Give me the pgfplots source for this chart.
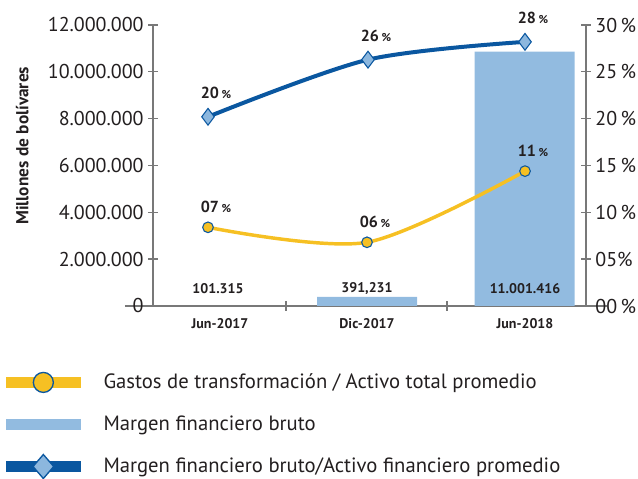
\documentclass[border=0pt]{standalone}
\usepackage{fontspec}
\setmainfont{PT Sans}
\usepackage{pgfplots}
\usepackage{pgfplotstable}
\pgfplotsset{compat=1.18}
\definecolor{ylw}{RGB}{246,192,35}
\definecolor{dblue}{RGB}{10,87,160}
\definecolor{lblue}{RGB}{146,187,224}
\definecolor{dia}{RGB}{140,183,222}
\definecolor{axgray}{RGB}{120,120,120}
\definecolor{txt}{RGB}{35,31,32}
\pgfplotstableread{
x y
214 391231
371.5 10860000
}\bars
\pgfplotstableread{
x y lab
55 20.2 20
215 26.3 26
372 28.2 28
}\blueline
\pgfplotstableread{
x y lab
55 8.4 07
214 6.8 06
372 14.4 11
}\ylwline
\newcommand\tfont{\fontsize{15}{16}\selectfont}
\newcommand\bfont{\fontsize{10.5}{11}\selectfont\bfseries}
\begin{document}
\begin{tikzpicture}
\path[use as bounding box] (0pt,0pt) rectangle (478.5pt,358.5pt);
\begin{axis}[
  at={(114.75pt,129pt)}, anchor=south west,
  scale only axis, width=324.75pt, height=210.75pt,
  xmin=0, xmax=433, ymin=0, ymax=12000000,
  axis x line*=bottom, axis y line*=left,
  axis line style={axgray, line width=1pt},
  x axis line style={-, shorten <=-21pt, shorten >=-15.75pt},
  y axis line style={-},
  tick align=center, major tick length=7pt,
  tick style={axgray, line width=1pt},
  ytick={0,2000000,4000000,6000000,8000000,10000000,12000000},
  yticklabels={0,2.000.000,4.000.000,6.000.000,8.000.000,10.000.000,12.000.000},
  yticklabel style={font=\tfont, text=txt},
  scaled y ticks=false,
  xtick={133,294}, xticklabels={,,},
  extra x ticks={67,214,372},
  extra x tick labels={Jun-2017,Dic-2017,Jun-2018},
  extra x tick style={major tick length=0pt, xticklabel style={font=\bfont, text=txt, anchor=north, yshift=-6pt}},
  ylabel={Millones de bolívares},
  ylabel style={font=\fontsize{13}{13}\selectfont\bfseries, text=txt, at={(axis description cs:-0.302,0.57)}, anchor=center},
  clip=false,
]
\addplot[ybar, bar width=100, fill=lblue, draw=none] table[x=x,y=y] {\bars};
\node[font=\bfont, text=txt] at (axis cs:65,726000) {101.315};
\node[font=\bfont, text=txt] at (axis cs:214,726000) {391,231};
\node[font=\bfont, text=txt] at (axis cs:372,726000) {11.001.416};
\end{axis}
\begin{axis}[
  at={(114.75pt,129pt)}, anchor=south west,
  scale only axis, width=324.75pt, height=210.75pt,
  xmin=0, xmax=433, ymin=0, ymax=30,
  axis y line*=right, axis x line=none,
  axis line style={axgray, line width=1pt},
  y axis line style={-},
  tick align=center, major tick length=7pt,
  tick style={axgray, line width=1pt},
  ytick={0,5,10,15,20,25,30},
  yticklabels={00\,\%,05\%,10\,\%,15\,\%,20\,\%,25\,\%,30\,\%},
  yticklabel style={font=\tfont, text=txt},
  clip=false,
  legend style={at={(axis description cs:-0.362,-0.222)}, anchor=north west, draw=none, fill=none,
    font=\fontsize{15.5}{16.5}\selectfont, text=txt, row sep=15pt,
    legend cell align=left, /tikz/every odd column/.append style={column sep=11pt}},
  legend image code/.code={\draw[#1, mark=none] (0pt,0pt) -- (56pt,0pt);
    \begin{pgfinterruptboundingbox}\draw[mark repeat=2,mark phase=2,#1] plot coordinates {(0pt,0pt) (28pt,0pt) (56pt,0pt)};\end{pgfinterruptboundingbox}},
]
\addlegendimage{ylw, line width=8.25pt, mark=*, mark size=7.5pt, mark options={fill=ylw, draw=dblue, line width=1pt}}
\addlegendentry{Gastos de transformación / Activo total promedio}
\addlegendimage{lblue, line width=8.25pt}
\addlegendentry{Margen financiero bruto}
\addlegendimage{dblue, line width=8.25pt, mark=diamond*, mark size=9pt, mark options={fill=dia, draw=dblue, line width=1pt, xscale=1.15}}
\addlegendentry{Margen financiero bruto/Activo financiero promedio}
\addplot[ylw, line width=2.6pt, smooth, mark=*, mark size=4pt,
  mark options={fill=ylw, draw=dblue, line width=0.8pt},
  point meta=explicit symbolic,
  nodes near coords={\bfseries\fontsize{12}{12}\selectfont\pgfplotspointmeta\,{\fontsize{8.5}{8.5}\selectfont\%}},
  every node near coord/.append style={anchor=center, xshift=6pt, yshift=15pt, text=txt}]
  table[x=x,y=y,meta=lab] {\ylwline};
\addplot[dblue, line width=3pt, smooth, mark=diamond*, mark size=6.3pt,
  mark options={fill=dia, draw=dblue, line width=0.8pt},
  point meta=explicit symbolic,
  nodes near coords={\bfseries\fontsize{12}{12}\selectfont\pgfplotspointmeta\,{\fontsize{8.5}{8.5}\selectfont\%}},
  every node near coord/.append style={anchor=center, xshift=6pt, yshift=18pt, text=txt}]
  table[x=x,y=y,meta=lab] {\blueline};
\end{axis}
\end{tikzpicture}
\end{document}
